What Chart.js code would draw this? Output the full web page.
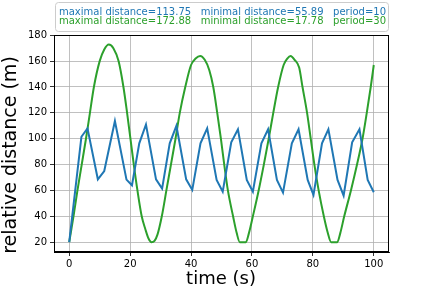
<!DOCTYPE html>
<html>
<head>
<meta charset="utf-8">
<script src="https://cdn.jsdelivr.net/npm/chart.js@4/dist/chart.umd.min.js"></script>
<style>
html,body{margin:0;padding:0;background:#fff;}
#wrap{width:432px;height:288px;position:relative;}
</style>
</head>
<body>
<div id="wrap"><canvas id="c" width="432" height="288"></canvas></div>
<script>
// ---- data ----
const blueTime = [0,4,6,9.4,11.5,15,18.8,20.6,23,25.2,28.5,30.5,33,35.2,38.4,40.4,43.1,45.3,48.4,50.4,53.2,55.4,58.3,60.3,63.1,65.3,68.2,70.2,73.1,75.3,78.3,80.2,83,85.1,88.1,90.1,92.9,95.3,98,100];
const blueDist = [20,101.5,108,68.6,75,113.75,68.4,64,96.4,111,68.6,61.4,96.4,110,68.6,60.4,96.4,108,68.1,59,97.2,107.3,68.1,59,96.4,107.3,68.1,58.3,96.4,107.3,68.1,56.5,96.4,107.3,68.1,56,97.2,107.3,68.1,58.6];

const greenTime = [0,1.4,2.7,4.1,5.5,6.8,8.1,10,11.5,13,14.5,16.2,17.8,19,20.1,21.2,22.4,23.8,25,26,27,28,29,30.4,31.9,33.4,34.9,36.3,38.1,40,41.5,43,44.5,46,47.3,48.6,49.8,50.9,52.1,53.8,55,56,58,59,60.3,62.2,63.9,65.5,67,68.6,70.4,71.6,72.7,74,75.5,76.6,78.1,79.3,80.5,81.9,83.6,84.8,86,88,89,90.3,92.5,94.5,96.3,97.7,99,100];
const greenDist = [20,40,60,80,100,120,140,160,169,172.88,170,160,140,120,100,80,60,40,30,23,20,21,26,40,60,80,100,120,140,157,162,164,161,153,140,120,100,80,60,40,27,20,20,27,40,60,80,100,120,140,157,162,164,161,155,140,120,100,80,60,40,28,20,20,27,40,60,80,100,120,140,157];

const xTicks = [0,20,40,60,80,100];
const yTicks = [20,40,60,80,100,120,140,160,180];

const legendLines = [
  "maximal distance=113.75   minimal distance=55.89   period=10",
  "maximal distance=172.88   minimal distance=17.78   period=30"
];
const seriesColors = ["#1f77b4", "#2ca02c"];
const xTitle = "time (s)";
const yTitle = "relative distance (m)";

// ---- build ----
const toPts = (t, v) => t.map((x, i) => ({x: x, y: v[i]}));

const legendPlugin = {
  id: 'mplLegend',
  afterDraw(chart) {
    const ctx = chart.ctx;
    ctx.save();
    const x0 = 55.5, y0 = 2.5, w = 333, h = 29, r = 3;
    ctx.beginPath();
    ctx.moveTo(x0 + r, y0);
    ctx.lineTo(x0 + w - r, y0);
    ctx.quadraticCurveTo(x0 + w, y0, x0 + w, y0 + r);
    ctx.lineTo(x0 + w, y0 + h - r);
    ctx.quadraticCurveTo(x0 + w, y0 + h, x0 + w - r, y0 + h);
    ctx.lineTo(x0 + r, y0 + h);
    ctx.quadraticCurveTo(x0, y0 + h, x0, y0 + h - r);
    ctx.lineTo(x0, y0 + r);
    ctx.quadraticCurveTo(x0, y0, x0 + r, y0);
    ctx.closePath();
    ctx.fillStyle = "rgba(255,255,255,0.8)";
    ctx.fill();
    ctx.strokeStyle = "#cccccc";
    ctx.lineWidth = 1;
    ctx.stroke();
    ctx.font = "10px 'DejaVu Sans'";
    ctx.textBaseline = "middle";
    ctx.textAlign = "left";
    legendLines.forEach((s, i) => {
      ctx.fillStyle = seriesColors[i];
      ctx.fillText(s, 59, 12 + i * 9.5);
    });
    // axis titles
    ctx.fillStyle = '#000';
    ctx.textAlign = 'center';
    ctx.font = "18px 'DejaVu Sans'";
    ctx.fillText(xTitle, 221, 279);
    ctx.save();
    ctx.translate(11, 155);
    ctx.rotate(-Math.PI / 2);
    ctx.font = "19px 'DejaVu Sans'";
    ctx.fillText(yTitle, 0, 0);
    ctx.restore();
    ctx.restore();
  }
};

new Chart(document.getElementById('c'), {
  type: 'line',
  data: {
    datasets: [
      {data: toPts(blueTime, blueDist), borderColor: seriesColors[0], borderWidth: 2, pointRadius: 0, tension: 0, fill: false},
      {data: toPts(greenTime, greenDist), borderColor: seriesColors[1], borderWidth: 2, pointRadius: 0, cubicInterpolationMode: 'monotone', fill: false}
    ]
  },
  options: {
    responsive: false,
    animation: false,
    devicePixelRatio: 1,
    layout: {padding: {left: 0, right: 43, top: 35, bottom: 0}},
    plugins: {legend: {display: false}, tooltip: {enabled: false}},
    scales: {
      x: {
        type: 'linear', min: -5, max: 105,
        afterFit: s => { s.height = 36; },
        afterBuildTicks: s => { s.ticks = xTicks.map(v => ({value: v})); },
        grid: {color: '#b0b0b0', lineWidth: 0.8, tickColor: '#000', tickLength: 4, drawTicks: true},
        border: {display: true, color: '#000', width: 1},
        ticks: {color: '#000', font: {family: 'DejaVu Sans', size: 10}, padding: 2, maxRotation: 0},
        title: {display: false}
      },
      y: {
        type: 'linear', min: 12.4, max: 180.2,
        afterFit: s => { s.width = 54; },
        afterBuildTicks: s => { s.ticks = yTicks.map(v => ({value: v})); },
        grid: {color: '#b0b0b0', lineWidth: 0.8, tickColor: '#000', tickLength: 4, drawTicks: true},
        border: {display: true, color: '#000', width: 1},
        ticks: {color: '#000', font: {family: 'DejaVu Sans', size: 10}, padding: 3},
        title: {display: false}
      }
    }
  },
  plugins: [legendPlugin, {
    id: 'frame',
    afterDatasetsDraw(chart) {
      const a = chart.chartArea, ctx = chart.ctx;
      ctx.save();
      ctx.strokeStyle = '#000';
      ctx.lineWidth = 1;
      ctx.strokeRect(a.left + 0.5, a.top + 0.5, a.right - a.left - 1, a.bottom - a.top - 1);
      ctx.restore();
    }
  }]
});
</script>
</body>
</html>
